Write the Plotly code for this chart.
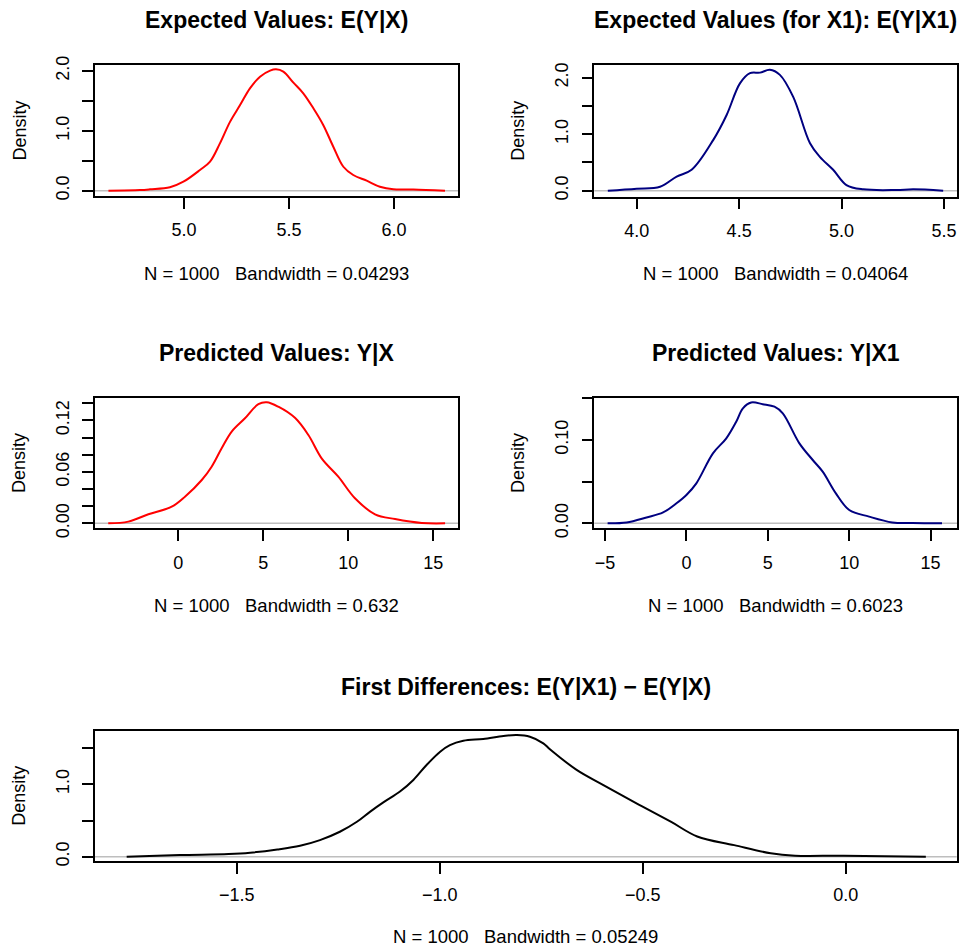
import plotly.graph_objects as go

W, H = 959, 949
FONT = "Liberation Sans, Arial, Helvetica, sans-serif"

# ---------------- data ----------------
ev_x = [4.64, 4.79, 4.838, 4.933, 4.997, 5.076, 5.124, 5.171, 5.219, 5.267, 5.314, 5.362,
        5.41, 5.438, 5.473, 5.521, 5.568, 5.616, 5.663, 5.711, 5.759, 5.806, 5.87, 5.933,
        5.997, 6.092, 6.243]
ev_y = [0.0, 0.011, 0.023, 0.057, 0.15, 0.346, 0.485, 0.79, 1.15, 1.43, 1.71, 1.905,
        2.005, 2.028, 1.99, 1.805, 1.627, 1.377, 1.098, 0.735, 0.40, 0.262, 0.167, 0.067,
        0.023, 0.02, 0.0]

ev1_x = [3.859, 4.0, 4.114, 4.195, 4.268, 4.374, 4.439, 4.504, 4.553, 4.602, 4.65, 4.699,
         4.764, 4.846, 4.894, 4.959, 5.024, 5.106, 5.268, 5.35, 5.496]
ev1_y = [0.0, 0.035, 0.07, 0.25, 0.37, 0.9, 1.34, 1.90, 2.08, 2.09, 2.14, 2.05,
         1.66, 0.84, 0.60, 0.37, 0.10, 0.024, 0.012, 0.024, 0.0]

pv_x = [-4.12, -2.94, -1.76, -0.39, 0.39, 1.38, 1.96, 2.55, 3.14, 3.92, 4.71, 5.2, 5.88,
        6.86, 7.65, 8.43, 9.41, 10.39, 11.57, 12.75, 14.32, 15.69]
pv_y = [0.0, 0.002, 0.0105, 0.0194, 0.031, 0.0505, 0.066, 0.0875, 0.107, 0.1225, 0.139,
        0.1412, 0.136, 0.123, 0.103, 0.0758, 0.0544, 0.0292, 0.0105, 0.005, 0.0004, 0.0]

pv1_x = [-4.84, -3.67, -2.45, -1.43, -0.61, 0.0, 0.61, 1.63, 2.45, 3.06, 3.47, 3.98, 4.69,
         5.41, 5.92, 6.94, 7.76, 8.37, 9.18, 10.0, 11.22, 12.65, 13.88, 15.7]
pv1_y = [0.0, 0.001, 0.007, 0.013, 0.024, 0.034, 0.048, 0.084, 0.102, 0.122, 0.138, 0.145, 0.143,
         0.14, 0.132, 0.096, 0.076, 0.062, 0.036, 0.016, 0.008, 0.001, 0.0003, 0.0]

fd_x = [-1.771, -1.64, -1.52, -1.467, -1.40, -1.344, -1.295, -1.246, -1.204, -1.172, -1.139,
        -1.098, -1.065, -1.032, -0.999, -0.975, -0.942, -0.893, -0.843, -0.81, -0.778, -0.745,
        -0.728, -0.663, -0.597, -0.51, -0.43, -0.366, -0.275, -0.185, -0.125, -0.005, 0.197]
fd_y = [0.0, 0.023, 0.037, 0.055, 0.10, 0.152, 0.23, 0.345, 0.483, 0.62, 0.75,
        0.9, 1.06, 1.27, 1.45, 1.54, 1.6, 1.626, 1.667, 1.68, 1.657, 1.566,
        1.48, 1.2, 0.99, 0.72, 0.48, 0.28, 0.16, 0.047, 0.014, 0.014, 0.0]

titles = ["Expected Values: E(Y|X)", "Expected Values (for X1): E(Y|X1)",
          "Predicted Values: Y|X", "Predicted Values: Y|X1",
          "First Differences: E(Y|X1) \u2212 E(Y|X)"]
subs = ["N = 1000   Bandwidth = 0.04293", "N = 1000   Bandwidth = 0.04064",
        "N = 1000   Bandwidth = 0.632", "N = 1000   Bandwidth = 0.6023",
        "N = 1000   Bandwidth = 0.05249"]

x_ticks = [[5.0, 5.5, 6.0], [4.0, 4.5, 5.0, 5.5], [0, 5, 10, 15], [-5, 0, 5, 10, 15],
           [-1.5, -1.0, -0.5, 0.0]]
x_ticktext = [["5.0", "5.5", "6.0"], ["4.0", "4.5", "5.0", "5.5"], ["0", "5", "10", "15"],
              ["\u22125", "0", "5", "10", "15"], ["\u22121.5", "\u22121.0", "\u22120.5", "0.0"]]
y_ticks = [[0.0, 0.5, 1.0, 1.5, 2.0], [0.0, 0.5, 1.0, 1.5, 2.0],
           [0.0, 0.02, 0.04, 0.06, 0.08, 0.10, 0.12, 0.14], [0.0, 0.05, 0.10, 0.15],
           [0.0, 0.5, 1.0, 1.5]]
y_ticktext = [["0.0", "", "1.0", "", "2.0"], ["0.0", "", "1.0", "", "2.0"],
              ["0.00", "", "", "0.06", "", "", "0.12", ""], ["0.00", "", "0.10", ""],
              ["0.0", "", "1.0", ""]]

series_x = [ev_x, ev1_x, pv_x, pv1_x, fd_x]
series_y = [ev_y, ev1_y, pv_y, pv1_y, fd_y]
colors = ["#FF0000", "#000080", "#FF0000", "#000080", "#000000"]

# ---------------- layout (pixel geometry) ----------------
boxes = [(95, 458, 65, 196), (594.3, 957.3, 65, 196.7), (95, 458, 397.7, 528.3),
         (594.3, 957, 397.7, 528.3), (95, 956.7, 730.7, 861)]
xranges = [[4.576, 6.305], [3.793, 5.565], [-4.9, 16.45], [-5.657, 16.62], [-1.849, 0.273]]
yranges = [[-0.0886, 2.1], [-0.106, 2.225], [-0.0058, 0.1465], [-0.006, 0.1508], [-0.059, 1.74]]
title_y = [20, 20, 353, 353, 687]
sub_y = [273, 273, 605.5, 605.5, 936.5]
dens_x = [19, 518, 19, 518, 19]


def px(x):
    return x / W


def py(y):
    return 1 - y / H


fig = go.Figure()
layout = dict(width=W, height=H,
              margin=dict(l=0, r=0, t=0, b=0, pad=0, autoexpand=False),
              paper_bgcolor="white", plot_bgcolor="white", showlegend=False,
              font=dict(family=FONT, size=18, color="black"))
annotations = []
shapes = []

for i in range(5):
    n = "" if i == 0 else str(i + 1)
    x0, x1, y0, y1 = boxes[i]
    common = dict(showline=True, mirror=True, linecolor="black", linewidth=1.5,
                  ticks="outside", ticklen=11, tickwidth=1.5, tickcolor="black",
                  showgrid=False, zeroline=False, fixedrange=True, automargin=False,
                  tickfont=dict(family=FONT, size=18, color="black"))
    layout["xaxis" + n] = dict(domain=[px(x0), px(x1)], range=xranges[i],
                               anchor="y" + n, tickvals=x_ticks[i], ticktext=x_ticktext[i],
                               ticklabelstandoff=6, **common)
    layout["yaxis" + n] = dict(domain=[py(y1), py(y0)], range=yranges[i],
                               anchor="x" + n, tickvals=y_ticks[i], ticktext=y_ticktext[i],
                               tickangle=-90, ticklabelstandoff=6, **common)
    shapes.append(dict(type="line", xref="x" + n + " domain", x0=0, x1=1,
                       yref="y" + n, y0=0, y1=0, line=dict(color="#BEBEBE", width=1.5),
                       layer="below"))
    fig.add_trace(go.Scatter(x=series_x[i], y=series_y[i], mode="lines",
                             line=dict(color=colors[i], width=2, shape="spline", smoothing=1.0),
                             xaxis="x" + n, yaxis="y" + n, hoverinfo="skip"))
    cx = px((x0 + x1) / 2)
    annotations.append(dict(text="<b>" + titles[i] + "</b>", xref="paper", yref="paper",
                            x=cx, y=py(title_y[i]), xanchor="center", yanchor="middle",
                            showarrow=False, font=dict(family=FONT, size=23, color="black")))
    annotations.append(dict(text=subs[i], xref="paper", yref="paper",
                            x=cx, y=py(sub_y[i]), xanchor="center", yanchor="middle",
                            showarrow=False, font=dict(family=FONT, size=18.5, color="black")))
    annotations.append(dict(text="Density", xref="paper", yref="paper",
                            x=px(dens_x[i]), y=py((y0 + y1) / 2), xanchor="center",
                            yanchor="middle", textangle=-90, showarrow=False,
                            font=dict(family=FONT, size=18, color="black")))

layout["annotations"] = annotations
layout["shapes"] = shapes
fig.update_layout(**layout)
fig.write_html("out.html", config={"displayModeBar": False},
               post_script="document.body.style.margin='0';document.body.style.overflow='hidden';")
